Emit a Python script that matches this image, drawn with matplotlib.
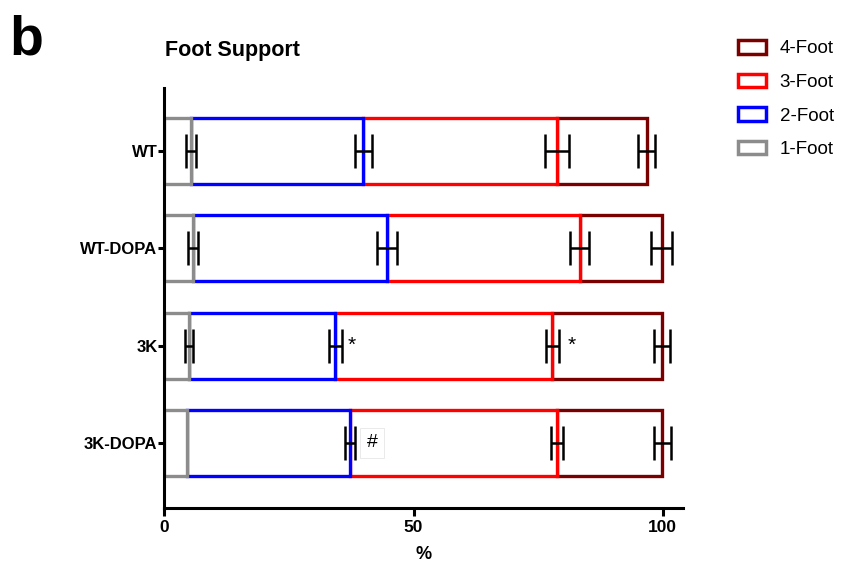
import matplotlib
matplotlib.use("Agg")
import matplotlib.pyplot as plt
from matplotlib.patches import Patch
import numpy as np

plt.rcParams['font.family'] = ['Liberation Sans', 'DejaVu Sans']

# Data (segment values, % of time)
groups = ["WT", "WT-DOPA", "3K", "3K-DOPA"]
foot1 = [5.3, 5.8, 5.0, 4.5]
foot2 = [34.6, 38.8, 29.3, 32.7]
foot3 = [38.9, 38.8, 43.6, 41.7]
foot4 = [18.0, 16.4, 21.9, 21.0]
err1 = [1.0, 1.0, 0.8, 0.0]
err2 = [1.7, 2.0, 1.3, 1.0]
err3 = [2.5, 1.9, 1.3, 1.2]
err4 = [1.7, 2.1, 1.6, 1.7]
series_names = ["1-Foot", "2-Foot", "3-Foot", "4-Foot"]
colors = ["#8c8c8c", "#0000ff", "#ff0000", "#7a0000"]

segments = [foot1, foot2, foot3, foot4]
errors = [err1, err2, err3, err4]

fig = plt.figure(figsize=(8.41, 5.71), dpi=100)
ax = fig.add_axes([0.1956, 0.1103, 0.6165, 0.7356])

y = np.arange(len(groups))
starts = np.zeros(len(groups))
lefts = []
for seg in segments:
    lefts.append(starts.copy())
    starts = starts + np.array(seg)

# draw from outermost to innermost so inner edges sit on top
for i in reversed(range(4)):
    ax.barh(y, segments[i], left=lefts[i], height=0.68, facecolor="white",
            edgecolor=colors[i], linewidth=2.4, zorder=2 + (3 - i) * 0.1)

for i in range(4):
    ends = lefts[i] + np.array(segments[i])
    for j in range(len(groups)):
        if errors[i][j] > 0:
            ax.errorbar(ends[j], y[j], xerr=errors[i][j], fmt="none",
                        ecolor="black", elinewidth=1.8, capsize=12,
                        capthick=1.8, zorder=5)

ax.set_ylim(3.67, -0.65)
ax.set_xlim(0, 104.1)
ax.set_yticks(y)
ax.set_yticklabels(groups, fontweight="bold", fontsize=12)
ax.set_xticks([0, 50, 100])
ax.set_xticklabels(["0", "50", "100"], fontweight="bold", fontsize=12.5)
ax.set_xlabel("%", fontweight="bold", fontsize=13, labelpad=8)

for s in ["top", "right"]:
    ax.spines[s].set_visible(False)
for s in ["left", "bottom"]:
    ax.spines[s].set_linewidth(2.2)
ax.tick_params(axis="y", width=2.2, length=4, pad=1)
ax.tick_params(axis="x", width=2.2, length=5.5, pad=3)

# significance marks
ax.text(37.6, 2, "*", ha="center", va="center", fontsize=15)
ax.text(81.8, 2, "*", ha="center", va="center", fontsize=15)
ax.text(41.7, 3, "#", ha="center", va="center", fontsize=14,
        bbox=dict(facecolor="white", edgecolor="#e6e6e6", linewidth=0.6,
                  boxstyle="square,pad=0.35"))

fig.text(0.196, (571 - 61) / 571, "Foot Support", fontsize=15.5,
         fontweight="bold", ha="left", va="bottom")
fig.text(0.011, 0.975, "b", fontsize=40, fontweight="bold", ha="left", va="top")

handles = [Patch(facecolor="white", edgecolor=colors[i], linewidth=2.5,
                 label=series_names[i]) for i in reversed(range(4))]
fig.legend(handles=handles, loc="upper left", bbox_to_anchor=(0.869, 0.943),
           frameon=False, fontsize=13.5, handlelength=1.5, handleheight=0.75,
           labelspacing=0.86, handletextpad=0.7, borderaxespad=0)

fig.savefig("out.png", dpi=100)
